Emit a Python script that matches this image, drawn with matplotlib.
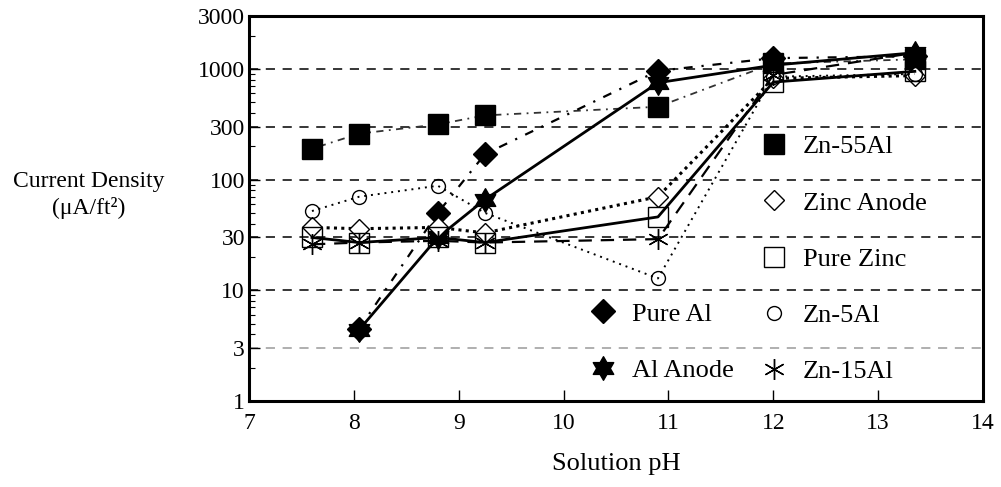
import numpy as np
import matplotlib
matplotlib.use("Agg")
import matplotlib.pyplot as plt
from matplotlib.path import Path
from matplotlib.lines import Line2D
from matplotlib.ticker import FixedLocator, NullFormatter, LogLocator

plt.rcParams['font.family'] = ['Liberation Serif', 'DejaVu Serif']

# Solution pH at which each coupon was measured
ph = [7.6, 8.05, 8.8, 9.25, 10.9, 12.0, 13.35]
ph_al = [8.05, 8.8, 9.25, 10.9, 12.0, 13.35]

# Current density, uA/ft^2
zn55al = [190, 260, 315, 380, 455, 1120, 1220]
pure_al = [4.5, 50, 170, 960, 1250, 1300]
al_anode = [4.4, 30, 66, 750, 1080, 1400]
zinc_anode = [37, 36, 37, 33, 70, 820, 870]
pure_zinc = [30, 27, 30, 27, 46, 760, 950]
zn5al = [52, 70, 88, 50, 12.8, 850, 900]
zn15al = [26, 27, 28, 27, 29, 880, 1400]

y_ticks = [1, 3, 10, 30, 100, 300, 1000, 3000]
x_ticks = [7, 8, 9, 10, 11, 12, 13, 14]
grid_dark = [10, 30, 100, 300, 1000]
grid_light = [3]

# six-pointed star marker
ang = np.deg2rad(90 + 30 * np.arange(12))
rad = np.where(np.arange(12) % 2 == 0, 1.0, 1.0 / np.sqrt(3))
verts = np.column_stack([rad * np.cos(ang), rad * np.sin(ang)])
verts = np.vstack([verts, verts[:1]])
hexagram = Path(verts, [Path.MOVETO] + [Path.LINETO] * 11 + [Path.CLOSEPOLY])

fig = plt.figure(figsize=(10.01, 4.87), dpi=100)
ax = fig.add_axes([0.2488, 0.1766, 0.7332, 0.7904])

for g in grid_dark:
    ax.axhline(g, color='black', lw=1.1, ls=(0, (6, 5)), zorder=1)
for g in grid_light:
    ax.axhline(g, color='#9a9a9a', lw=1.1, ls=(0, (6, 5)), zorder=1)

styles = [
    (ph, zn55al, dict(marker='s', ms=15, mfc='black', mec='black', ls=(0, (1, 3, 4, 3)), lw=1.3, color='#333333')),
    (ph_al, pure_al, dict(marker='D', ms=12, mfc='black', mec='black', ls=(0, (4, 4, 1, 4)), lw=1.6, color='black')),
    (ph_al, al_anode, dict(marker=hexagram, ms=17, mfc='black', mec='black', ls='-', lw=2.0, color='black')),
    (ph, zinc_anode, dict(marker='D', ms=10, mfc='white', mec='black', mew=1.0, ls=(0, (1, 1.4)), lw=2.2, color='black')),
    (ph, pure_zinc, dict(marker='s', ms=14, mfc='none', mec='black', mew=1.0, ls='-', lw=2.0, color='black')),
    (ph, zn5al, dict(marker='o', ms=10, mfc='none', mec='black', mew=1.0, ls=(0, (1, 2.5)), lw=1.4, color='black')),
    (ph, zn15al, dict(marker=(6, 2, 0), ms=15, mec='black', mew=1.0, ls=(0, (6, 4)), lw=1.6, color='black')),
]
for x, y, kw in styles:
    ax.plot(x, y, zorder=3, **kw)

ax.set_yscale('log')
ax.set_xlim(7, 14)
ax.set_ylim(1, 3000)
ax.yaxis.set_major_locator(FixedLocator(y_ticks))
ax.set_yticklabels([str(v) for v in y_ticks])
ax.yaxis.set_minor_locator(LogLocator(base=10, subs=[2, 4, 5, 6, 7, 8, 9]))
ax.yaxis.set_minor_formatter(NullFormatter())
ax.set_xticks(x_ticks)
ax.set_xticklabels([str(v) for v in x_ticks])
ax.tick_params(axis='both', which='major', direction='in', length=8, width=1.0,
               labelsize=17, colors='black')
ax.tick_params(axis='y', which='minor', direction='in', length=4, width=0.8)
ax.tick_params(axis='x', which='major', pad=9)
ax.tick_params(axis='y', which='major', pad=3)
for s in ax.spines.values():
    s.set_linewidth(2.2)

ax.set_xlabel('Solution pH', fontsize=19, labelpad=13)
fig.text(0.089, 0.627, 'Current Density', ha='center', va='center', fontsize=17)
fig.text(0.089, 0.572, '(μA/ft²)', ha='center', va='center', fontsize=17)

def handle(kw):
    k = {key: v for key, v in kw.items() if key not in ('ls', 'lw', 'color')}
    return Line2D([], [], ls='none', color='black', **k)

right_idx = [0, 3, 4, 5, 6]
right_labels = ['Zn-55Al', 'Zinc Anode', 'Pure Zinc', 'Zn-5Al', 'Zn-15Al']
leg1 = ax.legend([handle(styles[i][2]) for i in right_idx], right_labels,
                 loc='upper left', bbox_to_anchor=(0.697, 0.691), frameon=False,
                 fontsize=19, labelspacing=1.24, handlelength=1.0, handletextpad=0.6,
                 borderpad=0, borderaxespad=0)
ax.add_artist(leg1)
leg2 = ax.legend([handle(styles[i][2]) for i in [1, 2]], ['Pure Al', 'Al Anode'],
                 loc='upper left', bbox_to_anchor=(0.4637, 0.257), frameon=False,
                 fontsize=19, labelspacing=1.24, handlelength=1.0, handletextpad=0.6,
                 borderpad=0, borderaxespad=0)

fig.savefig('out.png', dpi=100)
